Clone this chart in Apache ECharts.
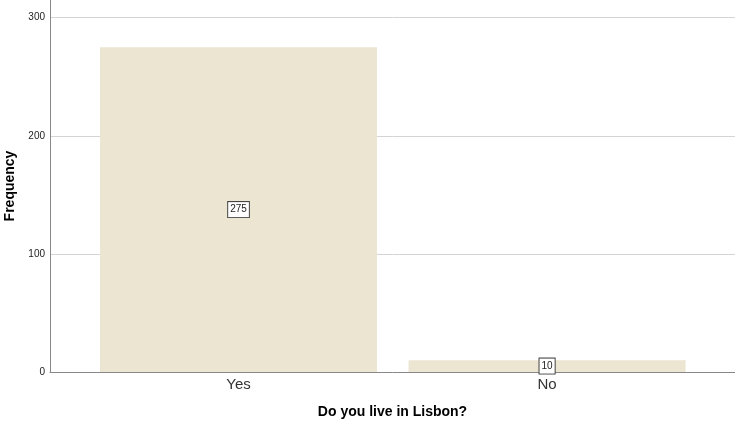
<!DOCTYPE html>
<html>
<head>
<meta charset="utf-8">
<script src="https://cdn.jsdelivr.net/npm/echarts@6/dist/echarts.min.js"></script>
<style>html,body{margin:0;padding:0;background:#fff}#main{width:735px;height:427px}</style>
</head>
<body>
<div id="main"></div>
<script>
var myChart = echarts.init(document.getElementById('main'));
var categories = ['Yes', 'No'];
var frequency = [275, 10];
var yTicks = [0, 100, 200, 300];

var points = [];
for (var i = 0; i < categories.length; i++) {
	points.push([i, frequency[i]]);
}

var option = {
	backgroundColor: '#fff',
	textStyle: { fontFamily: 'Liberation Sans' },
	grid: { left: 50, right: 0, top: 0, bottom: 55, outerBoundsMode: 'none', containLabel: false },
	xAxis: {
		type: 'value',
		min: -0.611,
		max: 1.609,
		name: 'Do you live in Lisbon?',
		nameLocation: 'middle',
		nameGap: 33,
		nameTextStyle: { color: '#000', fontSize: 14, fontWeight: 'bold' },
		axisLine: { show: true, onZero: false, lineStyle: { color: '#888', width: 1 } },
		axisTick: { show: false },
		splitLine: { show: false },
		axisLabel: {
			customValues: [0, 1],
			formatter: function (v) { return categories[Math.round(v)]; },
			color: '#333',
			fontSize: 15,
			margin: 5
		}
	},
	yAxis: {
		type: 'value',
		min: 0,
		max: 315,
		interval: 100,
		name: 'Frequency',
		nameLocation: 'middle',
		nameRotate: 90,
		nameGap: 33,
		nameTextStyle: { color: '#000', fontSize: 14, fontWeight: 'bold' },
		axisLine: { show: true, onZero: false, lineStyle: { color: '#888', width: 1 } },
		axisTick: { show: false },
		splitLine: { show: true, showMaxLine: false, lineStyle: { color: '#d4d4d4', width: 1 } },
		axisLabel: {
			customValues: yTicks,
			color: '#222',
			fontSize: 10,
			margin: 5
		}
	},
	series: [{
		type: 'bar',
		data: points,
		barWidth: 277,
		itemStyle: { color: '#ebe5d1' },
		label: {
			show: true,
			position: 'inside',
			formatter: function (p) { return p.value[1]; },
			color: '#222',
			fontSize: 10,
			backgroundColor: '#fff',
			borderColor: '#444',
			borderWidth: 1,
			padding: [3, 2, 2, 2]
		}
	}]
};
myChart.setOption(option, true);
</script>
</body>
</html>
